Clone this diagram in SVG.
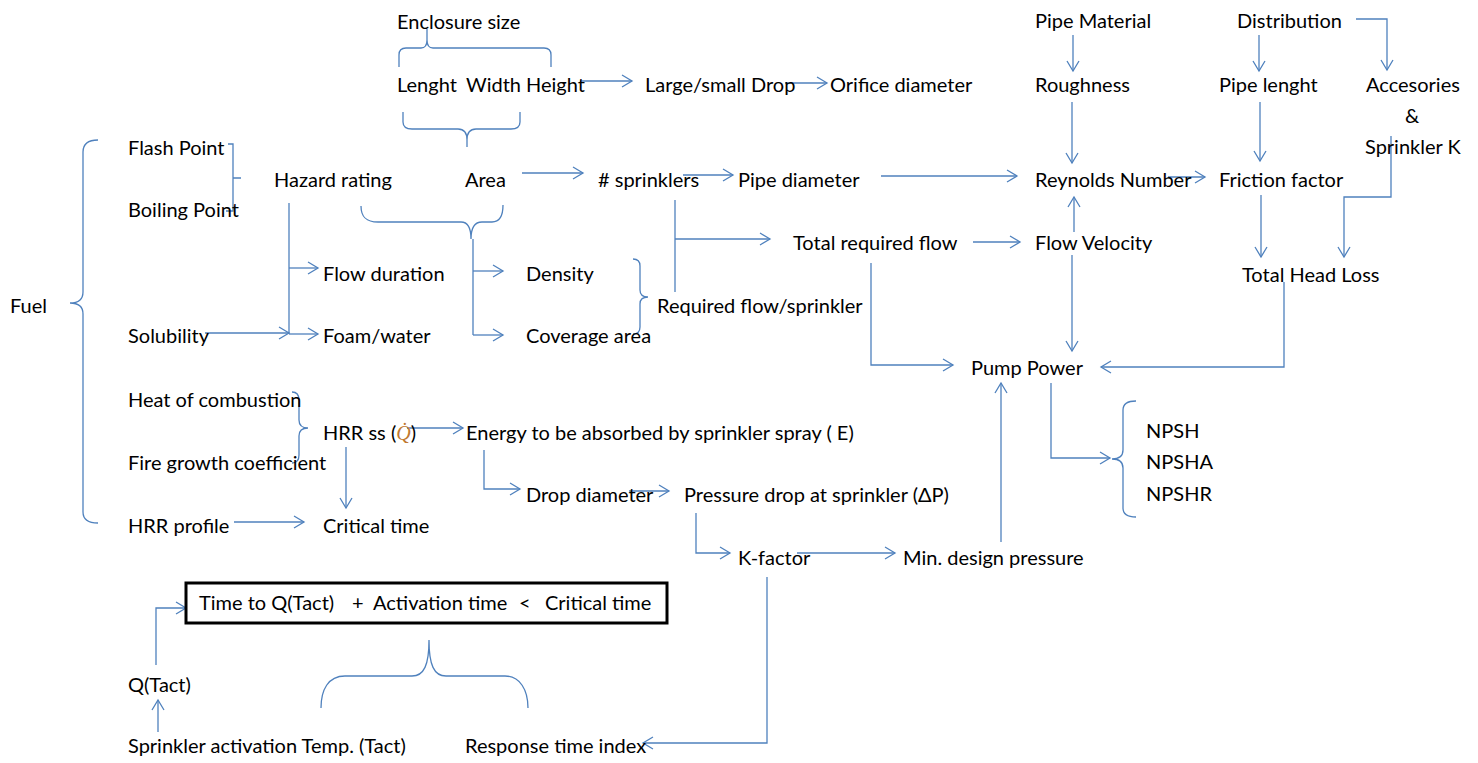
<svg xmlns="http://www.w3.org/2000/svg" width="1478" height="763" viewBox="0 0 1478 763">
<defs>
<style>
text{font-family:Lato,"Open Sans","Liberation Sans",sans-serif;font-size:20px;fill:#000}
.c{fill:none;stroke:#4f81bd;stroke-width:1.3}
.a{marker-end:url(#ah)}
</style>
<marker id="ah" markerUnits="userSpaceOnUse" markerWidth="14" markerHeight="14" viewBox="0 0 14 14" refX="12" refY="7" orient="auto">
<path d="M2,1 L12,7 L2,13" fill="none" stroke="#4f81bd" stroke-width="1.3"/>
</marker>
</defs>
<rect width="1478" height="763" fill="#fff"/>
<g id="connectors">
<path class="c" d="M399,67 V55 Q399,48 406,48 H421 Q427,48 427,40 V29 M427,40 Q427,48 433,48 H544 Q551,48 551,55 V67"/>
<path class="c" d="M403,112 V122 Q403,129 412,129 H458 Q467,129 467,140 V147 M467,140 Q467,129 476,129 H511 Q520,129 520,122 V112"/>
<path class="c a" d="M580,81 H632"/>
<path class="c a" d="M785,83 H827"/>
<path class="c" d="M228,144 H233 V211 H226 M233,178 H241"/>
<path class="c" d="M289,203 V334"/>
<path class="c a" d="M289,268 H318"/>
<path class="c a" d="M289,334 H318"/>
<path class="c a" d="M205,333 H289"/>
<path class="c" d="M361,206 C361,217 366,222 378,222 H461 C468,222 471,228 471,239 C471,228 474,222 482,222 H492 C500,222 503,215 503,205"/>
<path class="c" d="M473,239 V335"/>
<path class="c a" d="M473,271 H503"/>
<path class="c a" d="M473,335 H503"/>
<path class="c a" d="M522,173 H583"/>
<path class="c a" d="M683,175 H733"/>
<path class="c" d="M633,259 Q640,259 640,266 V290 Q640,297 648,297 Q640,297 640,304 V327 Q640,334 633,334"/>
<path class="c" d="M675,200 V292"/>
<path class="c a" d="M675,239 H770"/>
<path class="c a" d="M881,176 H1017"/>
<path class="c a" d="M973,242 H1020"/>
<path class="c a" d="M871,263 V365 H953"/>
<path class="c a" d="M1073,35 V71"/>
<path class="c a" d="M1072,102 V163"/>
<path class="c a" d="M1259,35 V71"/>
<path class="c a" d="M1356,19 H1387 V70"/>
<path class="c a" d="M1260,102 V161"/>
<path class="c a" d="M1168,177 H1205"/>
<path class="c a" d="M1261,195 V257"/>
<path class="c a" d="M1391,136 V197 H1344 V257"/>
<path class="c a" d="M1074,232 V197"/>
<path class="c a" d="M1072,255 V351"/>
<path class="c a" d="M1284,282 V367 H1101"/>
<path class="c a" d="M1001,542 V383"/>
<path class="c a" d="M1051,383 V458 H1110"/>
<path class="c" d="M1136,401 Q1123,401 1123,410 V450 Q1123,459 1112,459 Q1123,459 1123,468 V508 Q1123,517 1136,517"/>
<path class="c" d="M98,140 Q83,140 83,152 V292 Q83,303 70,303 Q83,303 83,314 V512 Q83,523 98,523"/>
<path class="c" d="M292,392 Q299,392 299,400 V420 Q299,428 308,428 Q299,428 299,436 V455 Q299,463 292,463"/>
<path class="c a" d="M407,428 H463"/>
<path class="c a" d="M346,447 V508"/>
<path class="c a" d="M234,522 H304"/>
<path class="c a" d="M484,450 V489 H520"/>
<path class="c a" d="M629,491 H669"/>
<path class="c a" d="M696,513 V553 H730"/>
<path class="c a" d="M797,553 H895"/>
<path class="c a" d="M767,577 V743 H643"/>
<path class="c a" d="M156,665 V608 H186"/>
<path class="c a" d="M158,732 V700"/>
<path class="c" d="M321,708 C321,690 328,676 345,676 H412 C424,676 429,665 429,640 C429,665 434,676 446,676 H505 C520,676 528,690 528,708"/>
</g>
<g id="enclosure"><text x="397" y="29">Enclosure size</text></g>
<g id="dims"><text x="397" y="92">Lenght</text><text x="466" y="92">Width</text><text x="526" y="92">Height</text></g>
<g id="drop"><text x="645" y="92">Large/small Drop</text></g>
<g id="orifice"><text x="830" y="92">Orifice diameter</text></g>
<g id="pipematerial"><text x="1035" y="28">Pipe Material</text></g>
<g id="distribution"><text x="1237" y="28">Distribution</text></g>
<g id="roughness"><text x="1035" y="92">Roughness</text></g>
<g id="pipelength"><text x="1219" y="92">Pipe lenght</text></g>
<g id="accessories"><text x="1366" y="92">Accesories</text><text x="1412" y="123" text-anchor="middle">&amp;</text><text x="1365" y="154">Sprinkler K</text></g>
<g id="flash"><text x="128" y="155">Flash Point</text></g>
<g id="boiling"><text x="128" y="217">Boiling Point</text></g>
<g id="hazard"><text x="274" y="187">Hazard rating</text></g>
<g id="area"><text x="465" y="187">Area</text></g>
<g id="sprinklers"><text x="598" y="187"># sprinklers</text></g>
<g id="pipediameter"><text x="738" y="187">Pipe diameter</text></g>
<g id="reynolds"><text x="1035" y="187">Reynolds Number</text></g>
<g id="friction"><text x="1219" y="187">Friction factor</text></g>
<g id="totalflow"><text x="793" y="250">Total required flow</text></g>
<g id="velocity"><text x="1035" y="250">Flow Velocity</text></g>
<g id="headloss"><text x="1242" y="282">Total Head Loss</text></g>
<g id="fuel"><text x="10" y="313">Fuel</text></g>
<g id="duration"><text x="323" y="281">Flow duration</text></g>
<g id="density"><text x="526" y="281">Density</text></g>
<g id="flowpersprinkler"><text x="657" y="313">Required flow/sprinkler</text></g>
<g id="solubility"><text x="128" y="343">Solubility</text></g>
<g id="foam"><text x="323" y="343">Foam/water</text></g>
<g id="coverage"><text x="526" y="343">Coverage area</text></g>
<g id="pump"><text x="971" y="375">Pump Power</text></g>
<g id="heat"><text x="128" y="407">Heat of combustion</text></g>
<g id="hrrss"><text x="323" y="440">HRR ss (<tspan style="font-family:'Liberation Serif',serif;font-style:italic;fill:#c07a30">Q̇</tspan>)</text></g>
<g id="energy"><text x="466" y="440">Energy to be absorbed by sprinkler spray ( E)</text></g>
<g id="npsh"><text x="1146" y="438">NPSH</text><text x="1146" y="469">NPSHA</text><text x="1146" y="501">NPSHR</text></g>
<g id="firegrowth"><text x="128" y="470">Fire growth coefficient</text></g>
<g id="dropdiam"><text x="526" y="502">Drop diameter</text></g>
<g id="pressuredrop"><text x="684" y="502">Pressure drop at sprinkler (ΔP)</text></g>
<g id="hrrprofile"><text x="128" y="533">HRR profile</text></g>
<g id="criticaltime"><text x="323" y="533">Critical time</text></g>
<g id="kfactor"><text x="738" y="565">K-factor</text></g>
<g id="mindesign"><text x="903" y="565">Min. design pressure</text></g>
<g id="condition"><rect x="186" y="583" width="481" height="40" fill="#fff" stroke="#000" stroke-width="3"/><text x="199" y="610">Time to Q(Tact)</text><text x="352" y="610">+</text><text x="373" y="610">Activation time</text><text x="519" y="610">&lt;</text><text x="545" y="610">Critical time</text></g>
<g id="qtact"><text x="128" y="692">Q(Tact)</text></g>
<g id="tact"><text x="128" y="753">Sprinkler activation Temp. (Tact)</text></g>
<g id="rti"><text x="465" y="753">Response time index</text></g>
</svg>
